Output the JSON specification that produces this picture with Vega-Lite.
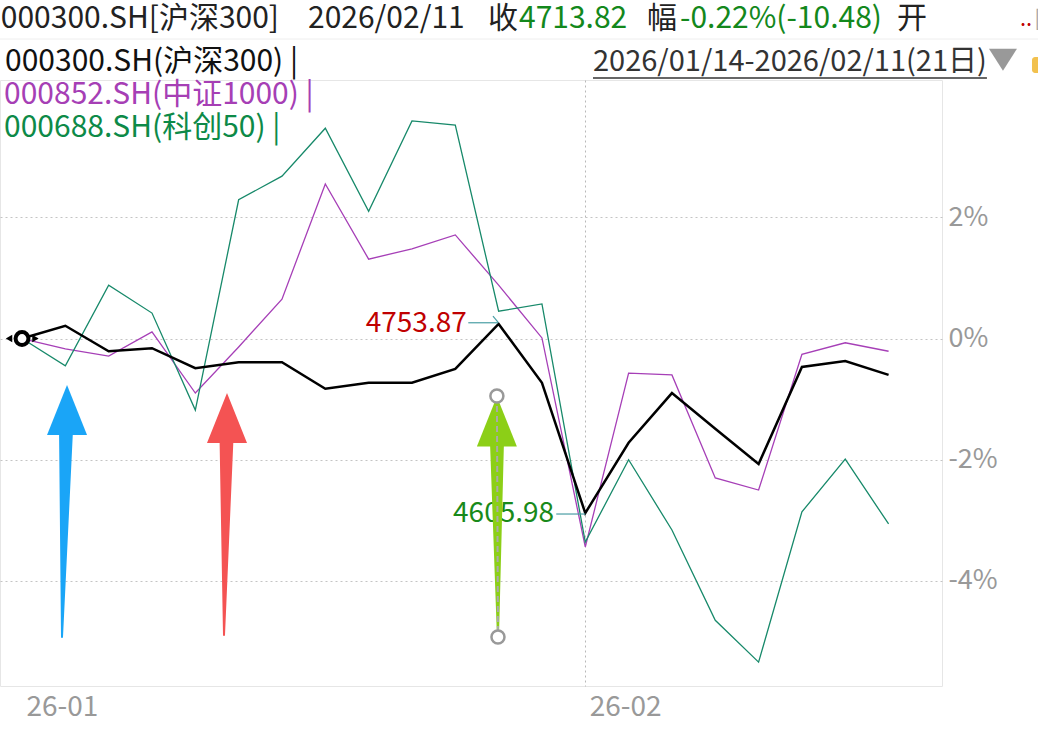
{
  "$schema": "https://vega.github.io/schema/vega-lite/v6.json",
  "width": 942,
  "height": 606,
  "autosize": {"type": "none"},
  "padding": {"left": 0, "top": 80, "right": 96, "bottom": 44},
  "background": "white",
  "config": {
    "view": {"stroke": "#e6e6e6", "strokeWidth": 1},
    "font": "Noto Sans CJK SC",
    "text": {"font": "Noto Sans CJK SC"}
  },
  "datasets": {
    "series": [
      {"date": "2026-01-14", "x": 0, "name": "沪深300", "y": 0},
      {"date": "2026-01-15", "x": 1, "name": "沪深300", "y": 0.21},
      {"date": "2026-01-16", "x": 2, "name": "沪深300", "y": -0.21},
      {"date": "2026-01-19", "x": 3, "name": "沪深300", "y": -0.16},
      {"date": "2026-01-20", "x": 4, "name": "沪深300", "y": -0.49},
      {"date": "2026-01-21", "x": 5, "name": "沪深300", "y": -0.39},
      {"date": "2026-01-22", "x": 6, "name": "沪深300", "y": -0.39},
      {"date": "2026-01-23", "x": 7, "name": "沪深300", "y": -0.83},
      {"date": "2026-01-26", "x": 8, "name": "沪深300", "y": -0.73},
      {"date": "2026-01-27", "x": 9, "name": "沪深300", "y": -0.73},
      {"date": "2026-01-28", "x": 10, "name": "沪深300", "y": -0.5},
      {"date": "2026-01-29", "x": 11, "name": "沪深300", "y": 0.24},
      {"date": "2026-01-30", "x": 12, "name": "沪深300", "y": -0.73},
      {"date": "2026-02-02", "x": 13, "name": "沪深300", "y": -2.88},
      {"date": "2026-02-03", "x": 14, "name": "沪深300", "y": -1.72},
      {"date": "2026-02-04", "x": 15, "name": "沪深300", "y": -0.9},
      {"date": "2026-02-05", "x": 16, "name": "沪深300", "y": -1.49},
      {"date": "2026-02-06", "x": 17, "name": "沪深300", "y": -2.07},
      {"date": "2026-02-09", "x": 18, "name": "沪深300", "y": -0.47},
      {"date": "2026-02-10", "x": 19, "name": "沪深300", "y": -0.37},
      {"date": "2026-02-11", "x": 20, "name": "沪深300", "y": -0.6},
      {"date": "2026-01-14", "x": 0, "name": "中证1000", "y": 0},
      {"date": "2026-01-15", "x": 1, "name": "中证1000", "y": -0.17},
      {"date": "2026-01-16", "x": 2, "name": "中证1000", "y": -0.29},
      {"date": "2026-01-19", "x": 3, "name": "中证1000", "y": 0.11},
      {"date": "2026-01-20", "x": 4, "name": "中证1000", "y": -0.9},
      {"date": "2026-01-21", "x": 5, "name": "中证1000", "y": -0.14},
      {"date": "2026-01-22", "x": 6, "name": "中证1000", "y": 0.65},
      {"date": "2026-01-23", "x": 7, "name": "中证1000", "y": 2.55},
      {"date": "2026-01-26", "x": 8, "name": "中证1000", "y": 1.31},
      {"date": "2026-01-27", "x": 9, "name": "中证1000", "y": 1.48},
      {"date": "2026-01-28", "x": 10, "name": "中证1000", "y": 1.71},
      {"date": "2026-01-29", "x": 11, "name": "中证1000", "y": 0.88},
      {"date": "2026-01-30", "x": 12, "name": "中证1000", "y": 0.01},
      {"date": "2026-02-02", "x": 13, "name": "中证1000", "y": -3.44},
      {"date": "2026-02-03", "x": 14, "name": "中证1000", "y": -0.57},
      {"date": "2026-02-04", "x": 15, "name": "中证1000", "y": -0.6},
      {"date": "2026-02-05", "x": 16, "name": "中证1000", "y": -2.3},
      {"date": "2026-02-06", "x": 17, "name": "中证1000", "y": -2.5},
      {"date": "2026-02-09", "x": 18, "name": "中证1000", "y": -0.26},
      {"date": "2026-02-10", "x": 19, "name": "中证1000", "y": -0.07},
      {"date": "2026-02-11", "x": 20, "name": "中证1000", "y": -0.21},
      {"date": "2026-01-14", "x": 0, "name": "科创50", "y": 0},
      {"date": "2026-01-15", "x": 1, "name": "科创50", "y": -0.45},
      {"date": "2026-01-16", "x": 2, "name": "科创50", "y": 0.88},
      {"date": "2026-01-19", "x": 3, "name": "科创50", "y": 0.42},
      {"date": "2026-01-20", "x": 4, "name": "科创50", "y": -1.18},
      {"date": "2026-01-21", "x": 5, "name": "科创50", "y": 2.29},
      {"date": "2026-01-22", "x": 6, "name": "科创50", "y": 2.68},
      {"date": "2026-01-23", "x": 7, "name": "科创50", "y": 3.47},
      {"date": "2026-01-26", "x": 8, "name": "科创50", "y": 2.1},
      {"date": "2026-01-27", "x": 9, "name": "科创50", "y": 3.59},
      {"date": "2026-01-28", "x": 10, "name": "科创50", "y": 3.52},
      {"date": "2026-01-29", "x": 11, "name": "科创50", "y": 0.45},
      {"date": "2026-01-30", "x": 12, "name": "科创50", "y": 0.57},
      {"date": "2026-02-02", "x": 13, "name": "科创50", "y": -3.36},
      {"date": "2026-02-03", "x": 14, "name": "科创50", "y": -2.0},
      {"date": "2026-02-04", "x": 15, "name": "科创50", "y": -3.16},
      {"date": "2026-02-05", "x": 16, "name": "科创50", "y": -4.65},
      {"date": "2026-02-06", "x": 17, "name": "科创50", "y": -5.34},
      {"date": "2026-02-09", "x": 18, "name": "科创50", "y": -2.86},
      {"date": "2026-02-10", "x": 19, "name": "科创50", "y": -1.99},
      {"date": "2026-02-11", "x": 20, "name": "科创50", "y": -3.06}
    ],
    "texts": [
      {"text": "000300.SH[沪深300]", "role": "header", "x": -0.49, "y": 5.27},
      {"text": "2026/02/11", "role": "header", "x": 6.6, "y": 5.27},
      {"text": "收", "role": "header", "x": 10.755, "y": 5.27},
      {"text": "4713.82", "role": "quote", "x": 11.47, "y": 5.27},
      {"text": "幅", "role": "header", "x": 14.424, "y": 5.27},
      {"text": "-0.22%(-10.48)", "role": "quote", "x": 15.186, "y": 5.27},
      {"text": "开", "role": "header", "x": 20.194, "y": 5.27},
      {"text": "000300.SH(沪深300) |", "role": "hs300", "x": -0.392, "y": 4.565},
      {"text": "000852.SH(中证1000) |", "role": "zz1000", "x": -0.415, "y": 4.02},
      {"text": "000688.SH(科创50) |", "role": "kc50", "x": -0.415, "y": 3.48}
    ],
    "corner": [
      {"text": "..", "role": "more", "x": 23.032, "y": 5.27},
      {"text": "[", "role": "box", "x": 23.36, "y": 5.27}
    ],
    "range": [
      {"text": "2026/01/14-2026/02/11(21日)", "role": "range", "x": 13.178, "y": 4.565}
    ],
    "labels": [
      {"text": "4753.87", "role": "max", "x": 10.265, "y": 0.2475},
      {"text": "4605.98", "role": "min", "x": 12.28, "y": -2.896}
    ],
    "leaders": [
      {"x": 10.3, "x2": 10.985, "y": 0.26, "y2": 0.26},
      {"x": 10.87, "x2": 10.995, "y": 0.371, "y2": 0.262},
      {"x": 12.33, "x2": 13.0, "y": -2.896, "y2": -2.896}
    ],
    "separator": [
      {"x": -0.508, "x2": 23.45, "y": 4.942, "y2": 4.942}
    ],
    "underline": [
      {"x": 13.178, "x2": 22.27, "y": 4.3, "y2": 4.3}
    ],
    "dropdown": [
      {"x": 22.64, "y": 4.6}
    ],
    "badge": [
      {"x": 23.31, "x2": 23.6, "y": 4.645, "y2": 4.381}
    ],
    "start": [
      {"x": 0, "y": 0}
    ],
    "startArrows": [
      {"x": -0.3, "y": 0, "side": "left"},
      {"x": 0.31, "y": 0, "side": "right"}
    ],
    "shafts": [
      {"arrow": "a1", "end": "bottom", "x": 0.923, "y": -4.926},
      {"arrow": "a1", "end": "top", "x": 1.016, "y": -1.5},
      {"arrow": "a2", "end": "bottom", "x": 4.662, "y": -4.893},
      {"arrow": "a2", "end": "top", "x": 4.72, "y": -1.63},
      {"arrow": "a3", "end": "bottom", "x": 10.985, "y": -4.926},
      {"arrow": "a3", "end": "top", "x": 10.962, "y": -1.7}
    ],
    "heads": [
      {"arrow": "a1", "x": 1.039, "y": -1.18},
      {"arrow": "a2", "x": 4.731, "y": -1.312},
      {"arrow": "a3", "x": 10.96, "y": -1.37}
    ],
    "handleLine": [
      {"x": 10.96, "x2": 10.985, "y": -0.95, "y2": -4.926}
    ],
    "handles": [
      {"x": 10.96, "y": -0.95},
      {"x": 10.985, "y": -4.926}
    ]
  },
  "encoding": {
    "x": {
      "field": "x",
      "type": "quantitative",
      "scale": {"domain": [-0.508, 21.233], "nice": false, "zero": false},
      "axis": {
        "values": [0, 13],
        "labelExpr": "datum.value == 0 ? '26-01' : '26-02'",
        "title": null,
        "orient": "bottom",
        "domain": false,
        "ticks": false,
        "labelAlign": "left",
        "labelOffset": 4,
        "labelPadding": 7,
        "labelFontSize": 28,
        "labelFont": "Noto Sans CJK SC",
        "labelColor": "#999999",
        "labelFlush": false,
        "labelOverlap": false,
        "grid": true,
        "gridColor": "#b8b8b8",
        "gridDash": [2, 3],
        "gridOpacity": {"condition": {"test": "datum.value == 13", "value": 1}, "value": 0}
      }
    },
    "y": {
      "field": "y",
      "type": "quantitative",
      "scale": {"domain": [-5.734, 4.266], "nice": false, "zero": false},
      "axis": {
        "values": [-4, -2, 0, 2],
        "labelExpr": "datum.value + '%'",
        "title": null,
        "orient": "right",
        "domain": false,
        "ticks": false,
        "labelAlign": "left",
        "labelBaseline": "middle",
        "labelPadding": 6,
        "labelFontSize": 27,
        "labelFont": "Noto Sans CJK SC",
        "labelColor": "#999999",
        "grid": true,
        "gridColor": "#c4c4c4",
        "gridDash": [2, 3]
      }
    }
  },
  "layer": [
    {
      "data": {"name": "separator"},
      "mark": {"type": "rule", "color": "#eeeeee", "strokeWidth": 1},
      "encoding": {"x2": {"field": "x2"}, "y2": {"field": "y2"}}
    },
    {
      "data": {"name": "series"},
      "transform": [{"filter": "datum.name != '沪深300'"}],
      "mark": {"type": "line", "strokeWidth": 1.3},
      "encoding": {
        "stroke": {
          "field": "name",
          "type": "nominal",
          "scale": {"domain": ["中证1000", "科创50"], "range": ["#a63fb7", "#17896a"]},
          "legend": null
        }
      }
    },
    {
      "data": {"name": "series"},
      "transform": [{"filter": "datum.name == '沪深300'"}],
      "mark": {"type": "line", "strokeWidth": 2.5, "color": "#000000"},
      "encoding": {}
    },
    {
      "data": {"name": "leaders"},
      "mark": {"type": "rule", "color": "#4a9ea4", "strokeWidth": 1.2},
      "encoding": {"x2": {"field": "x2"}, "y2": {"field": "y2"}}
    },
    {
      "data": {"name": "underline"},
      "mark": {"type": "rule", "color": "#333333", "strokeWidth": 1.6},
      "encoding": {"x2": {"field": "x2"}, "y2": {"field": "y2"}}
    },
    {
      "data": {"name": "texts"},
      "mark": {"type": "text", "align": "left", "baseline": "middle", "fontSize": 30, "font": "Noto Sans CJK SC"},
      "encoding": {
        "text": {"field": "text"},
        "fill": {
          "field": "role",
          "type": "nominal",
          "scale": {
            "domain": ["header", "quote", "hs300", "zz1000", "kc50", "max", "min", "range", "more", "box", "a1", "a2", "a3"],
            "range": ["#222222", "#13881c", "#111111", "#a63fb5", "#0d8a48", "#c00000", "#198a1a", "#333333", "#c00000", "#aaaaaa", "#1aa5f7", "#f45353", "#8ccf17"]
          },
          "legend": null
        }
      }
    },
    {
      "data": {"name": "corner"},
      "mark": {"type": "text", "align": "left", "baseline": "middle", "fontSize": 22, "font": "Noto Sans CJK SC"},
      "encoding": {
        "text": {"field": "text"},
        "fill": {
          "field": "role",
          "type": "nominal",
          "scale": {
            "domain": ["header", "quote", "hs300", "zz1000", "kc50", "max", "min", "range", "more", "box", "a1", "a2", "a3"],
            "range": ["#222222", "#13881c", "#111111", "#a63fb5", "#0d8a48", "#c00000", "#198a1a", "#333333", "#c00000", "#aaaaaa", "#1aa5f7", "#f45353", "#8ccf17"]
          },
          "legend": null
        }
      }
    },
    {
      "data": {"name": "range"},
      "mark": {"type": "text", "align": "left", "baseline": "middle", "fontSize": 29, "font": "Noto Sans CJK SC"},
      "encoding": {
        "text": {"field": "text"},
        "fill": {
          "field": "role",
          "type": "nominal",
          "scale": {
            "domain": ["header", "quote", "hs300", "zz1000", "kc50", "max", "min", "range", "more", "box", "a1", "a2", "a3"],
            "range": ["#222222", "#13881c", "#111111", "#a63fb5", "#0d8a48", "#c00000", "#198a1a", "#333333", "#c00000", "#aaaaaa", "#1aa5f7", "#f45353", "#8ccf17"]
          },
          "legend": null
        }
      }
    },
    {
      "data": {"name": "labels"},
      "mark": {"type": "text", "align": "right", "baseline": "middle", "fontSize": 28, "font": "Noto Sans CJK SC"},
      "encoding": {
        "text": {"field": "text"},
        "fill": {
          "field": "role",
          "type": "nominal",
          "scale": {
            "domain": ["header", "quote", "hs300", "zz1000", "kc50", "max", "min", "range", "more", "box", "a1", "a2", "a3"],
            "range": ["#222222", "#13881c", "#111111", "#a63fb5", "#0d8a48", "#c00000", "#198a1a", "#333333", "#c00000", "#aaaaaa", "#1aa5f7", "#f45353", "#8ccf17"]
          },
          "legend": null
        }
      }
    },
    {
      "data": {"name": "dropdown"},
      "mark": {"type": "point", "shape": "M-1,-0.79 L1,-0.79 L0,0.79 Z", "size": 784, "filled": true, "color": "#999999", "opacity": 1},
      "encoding": {}
    },
    {
      "data": {"name": "badge"},
      "mark": {"type": "rect", "color": "#f2c14e", "cornerRadius": 3},
      "encoding": {"x2": {"field": "x2"}, "y2": {"field": "y2"}}
    },
    {
      "data": {"name": "startArrows"},
      "mark": {"type": "point", "filled": true, "color": "#000000", "size": 55, "opacity": 1},
      "encoding": {
        "shape": {
          "field": "side",
          "type": "nominal",
          "scale": {"domain": ["left", "right"], "range": ["triangle-left", "triangle-right"]},
          "legend": null
        }
      }
    },
    {
      "data": {"name": "start"},
      "mark": {"type": "point", "size": 165, "fill": "#ffffff", "stroke": "#000000", "strokeWidth": 4, "opacity": 1, "fillOpacity": 1},
      "encoding": {}
    },
    {
      "data": {"name": "shafts"},
      "mark": {"type": "trail"},
      "encoding": {
        "fill": {
          "field": "arrow",
          "type": "nominal",
          "scale": {
            "domain": ["header", "quote", "hs300", "zz1000", "kc50", "max", "min", "range", "more", "box", "a1", "a2", "a3"],
            "range": ["#222222", "#13881c", "#111111", "#a63fb5", "#0d8a48", "#c00000", "#198a1a", "#333333", "#c00000", "#aaaaaa", "#1aa5f7", "#f45353", "#8ccf17"]
          },
          "legend": null
        },
        "detail": {"field": "arrow"},
        "size": {
          "field": "end",
          "type": "ordinal",
          "scale": {"domain": ["bottom", "top"], "range": [2, 14]},
          "legend": null
        }
      }
    },
    {
      "data": {"name": "heads"},
      "mark": {"type": "point", "shape": "M-0.8,1 L0,-1 L0.8,1 Z", "size": 2500, "filled": true, "opacity": 1},
      "encoding": {
        "fill": {
          "field": "arrow",
          "type": "nominal",
          "scale": {
            "domain": ["header", "quote", "hs300", "zz1000", "kc50", "max", "min", "range", "more", "box", "a1", "a2", "a3"],
            "range": ["#222222", "#13881c", "#111111", "#a63fb5", "#0d8a48", "#c00000", "#198a1a", "#333333", "#c00000", "#aaaaaa", "#1aa5f7", "#f45353", "#8ccf17"]
          },
          "legend": null
        }
      }
    },
    {
      "data": {"name": "handleLine"},
      "mark": {"type": "rule", "color": "#aaaaaa", "strokeWidth": 2, "strokeDash": [6, 4]},
      "encoding": {"x2": {"field": "x2"}, "y2": {"field": "y2"}}
    },
    {
      "data": {"name": "handles"},
      "mark": {"type": "point", "size": 170, "fill": "#ffffff", "stroke": "#999999", "strokeWidth": 2.5, "opacity": 1, "fillOpacity": 1},
      "encoding": {}
    }
  ]
}
